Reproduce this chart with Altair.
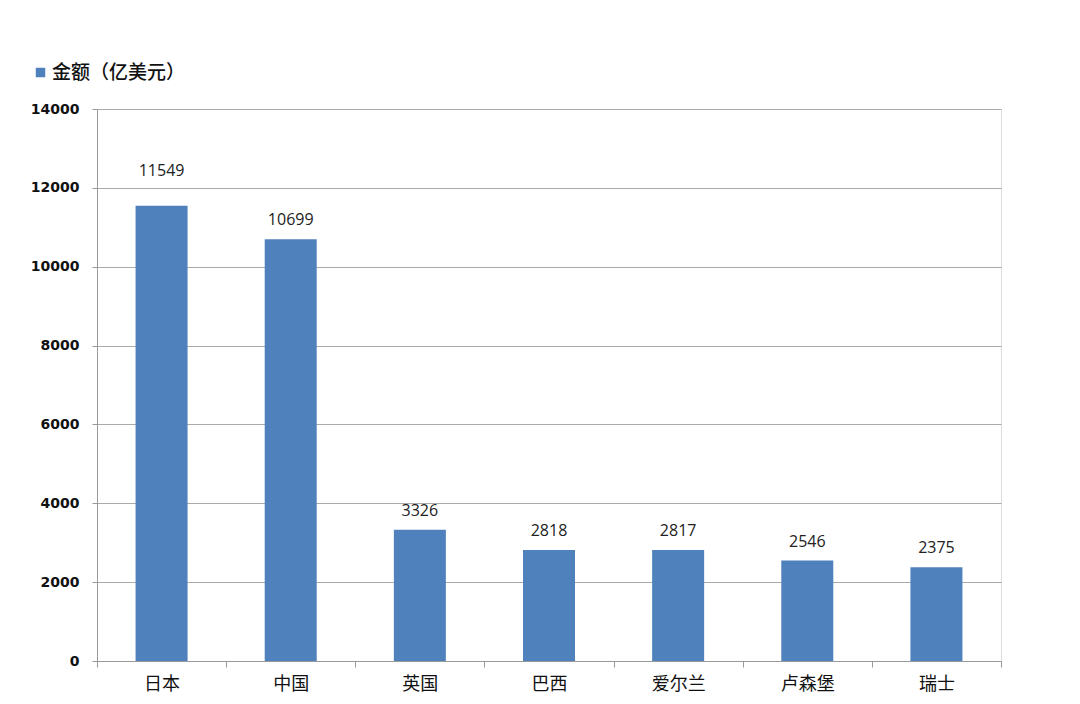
import altair as alt
import pandas as pd

countries = ["日本", "中国", "英国", "巴西", "爱尔兰", "卢森堡", "瑞士"]
values = [11549, 10699, 3326, 2818, 2817, 2546, 2375]
series_name = "金额（亿美元）"

df = pd.DataFrame({"country": countries, "value": values, "series": [series_name] * len(countries)})

x = alt.X("country:N", sort=countries, title=None,
          scale=alt.Scale(paddingInner=0, paddingOuter=0),
          axis=alt.Axis(labelAngle=0, labelFont="Noto Sans CJK SC", labelFontSize=18,
                        labelColor="#111", labelPadding=8, tickBand="extent",
                        tickColor="#999", tickSize=6, domainColor="#999", grid=False))
y = alt.Y("value:Q", title=None,
          scale=alt.Scale(domain=[0, 14000], nice=False),
          axis=alt.Axis(values=list(range(0, 14001, 2000)), format="d",
                        labelFont="DejaVu Sans", labelFontSize=14, labelFontWeight="bold",
                        labelColor="#111", labelPadding=13, tickColor="#999", tickSize=5,
                        domainColor="#999", gridColor="#aaa", gridWidth=1))

bars = alt.Chart(df).mark_bar(size=52, color="#4F81BD").encode(
    x=x, y=y,
    color=alt.Color("series:N", scale=alt.Scale(range=["#4F81BD"]),
                    legend=alt.Legend(title=None, orient="none", legendX=-66, legendY=-46,
                                      symbolType="square", symbolSize=90, labelOffset=2,
                                      labelFont="Noto Sans CJK SC", labelFontSize=19,
                                      labelFontWeight=500,
                                      labelColor="#111", symbolStrokeWidth=0, labelLimit=300)),
)

text_enc = dict(x=alt.X("country:N", sort=countries), y="value:Q", text="value:Q")

labels = alt.Chart(df).transform_filter(alt.datum.country != "日本").mark_text(
    dy=-19, baseline="middle", font="Open Sans", fontSize=16, color="#222").encode(**text_enc)

label_top = alt.Chart(df).transform_filter(alt.datum.country == "日本").mark_text(
    dy=-35, baseline="middle", font="Open Sans", fontSize=16, color="#222").encode(**text_enc)

chart = alt.layer(bars, labels, label_top).properties(
    width=904, height=552,
    autosize=alt.AutoSizeParams(type="none"),
    padding={"left": 89, "top": 101, "right": 71, "bottom": 35},
).configure_view(stroke=None).configure(background="white")

chart.save("out.html", embed_options={"renderer": "svg", "actions": False})
